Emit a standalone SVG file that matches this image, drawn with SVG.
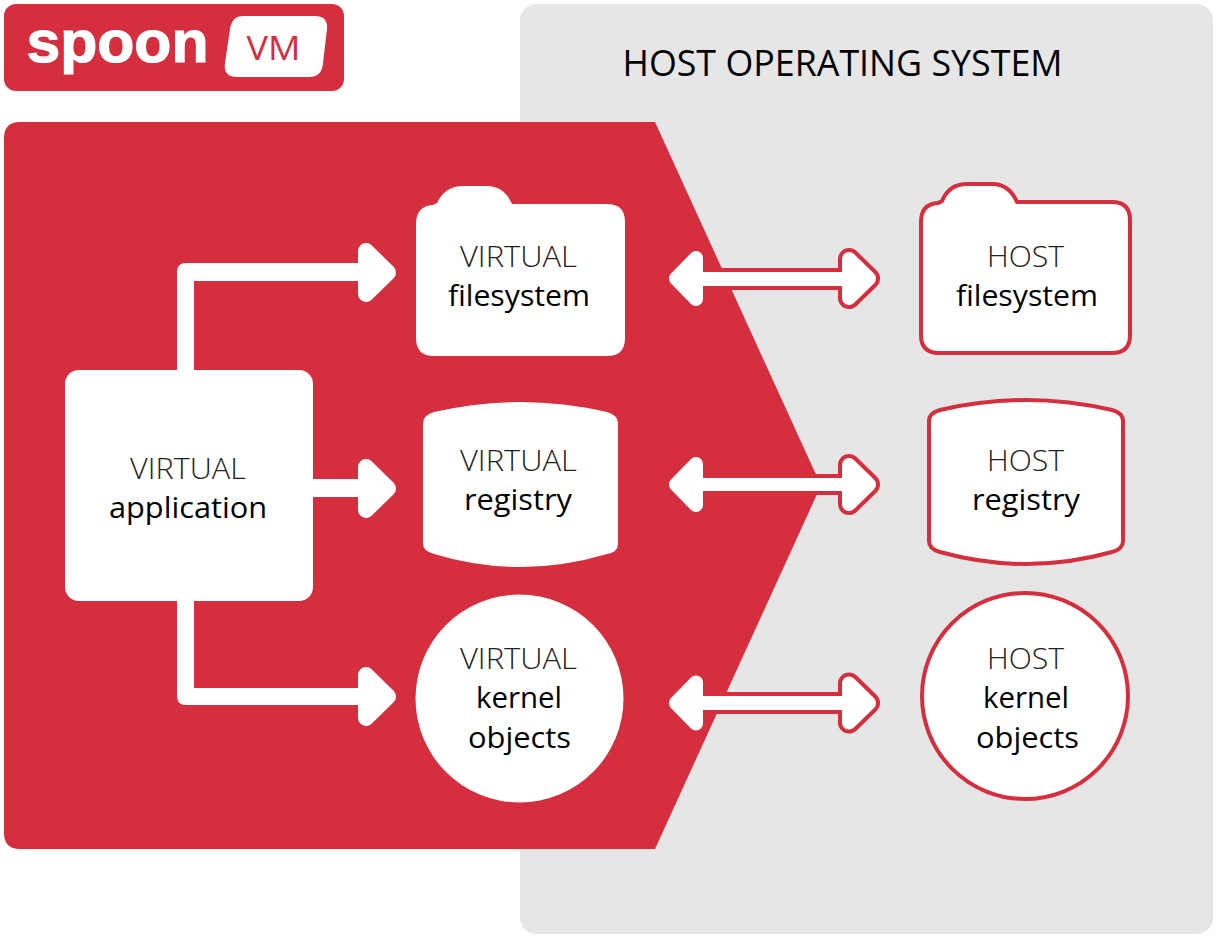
<svg xmlns="http://www.w3.org/2000/svg" width="1218" height="939" viewBox="0 0 1218 939">
<style>
text{font-family:"Open Sans","Noto Sans","Liberation Sans",sans-serif;fill:#000;text-anchor:middle}
.l{font-weight:300;font-size:30px;fill:#222}
.b{font-weight:400;font-size:30px}
.w{fill:#fff}
.ho{fill:#fff;stroke:#d52e3f;stroke-width:4}
.hw{fill:#fff;stroke:#fff;stroke-width:16;stroke-linejoin:round}
.ar{fill:#d52e3f;stroke:#d52e3f;stroke-width:22;stroke-linejoin:round}
.aw{fill:#fff;stroke:#fff;stroke-width:14;stroke-linejoin:round}
</style>
<rect width="1218" height="939" fill="#fff"/>
<g id="host-os">
<rect x="520" y="4" width="693" height="930" rx="16" fill="#e6e6e6"/>
<text x="842.500" y="76" font-size="37" textLength="440" lengthAdjust="spacingAndGlyphs">HOST OPERATING SYSTEM</text>
</g>
<g id="logo">
<rect x="4" y="4" width="340" height="87" rx="12" fill="#d52e3f"/>
<text x="117.500" y="62" textLength="182" lengthAdjust="spacingAndGlyphs" style="font-family:'Liberation Sans',sans-serif;font-weight:700;font-size:60px;fill:#fff;stroke:#fff;stroke-width:1.200px">spoon</text>
<path class="w" d="M243 16H315Q328 16 327 29L323 63Q322 77 309 77H237Q223 77 225 63L230 29Q232 16 243 16Z"/>
<text x="273.500" y="60" textLength="54" lengthAdjust="spacingAndGlyphs" style="font-weight:400;font-size:33px;fill:#d52e3f">VM</text>
</g>
<path id="vm-region" fill="#d52e3f" d="M20 122H655L821 485.500L655 849H20Q4 849 4 833V138Q4 122 20 122Z"/>
<g id="connectors">
<path class="w" d="M185 370H177V272Q177 263 186 263H365V281H194V370Z"/>
<path class="hw" d="M366 251L388 272.500L366 294Z"/>
<rect class="w" x="310" y="479" width="55" height="18"/>
<path class="hw" d="M366 467L388 488.500L366 510Z"/>
<path class="w" d="M177 598V696Q177 705 186 705H365V688H194V598Z"/>
<path class="hw" d="M366 675L388 696.500L366 718Z"/>

<rect x="703" y="268" width="145" height="22" fill="#d52e3f"/>
<path class="ar" d="M849 259L869 278.500L849 298Z"/>
<rect x="700" y="272" width="150" height="14" fill="#fff"/>
<path class="aw" d="M849 259L869 278.500L849 298Z"/>
<path class="aw" d="M696 258L676 278.500L696 299Z"/>

<rect x="703" y="474" width="145" height="21" fill="#d52e3f"/>
<path class="ar" d="M849 465L869 484.500L849 504Z"/>
<rect x="700" y="478" width="150" height="13" fill="#fff"/>
<path class="aw" d="M849 465L869 484.500L849 504Z"/>
<path class="aw" d="M696 464L676 484.500L696 505Z"/>

<rect x="703" y="692" width="145" height="22" fill="#d52e3f"/>
<path class="ar" d="M849 683.500L869 703L849 722.500Z"/>
<rect x="700" y="696" width="150" height="14" fill="#fff"/>
<path class="aw" d="M849 683.500L869 703L849 722.500Z"/>
<path class="aw" d="M696 682.500L676 703L696 723.500Z"/>
</g>
<g id="virtual-application">
<rect class="w" x="65" y="370" width="248" height="231" rx="14"/>
<text class="l" x="188" y="479" textLength="116" lengthAdjust="spacingAndGlyphs">VIRTUAL</text>
<text class="b" x="188" y="518" textLength="158" lengthAdjust="spacingAndGlyphs">application</text>
</g>
<g id="virtual-filesystem">
<path class="w" d="M416 224Q416 206 433 205L437 203Q445 186 463 186H487Q504 186 512 204H607Q625 204 625 222V338Q625 356 607 356H434Q416 356 416 338Z"/>
<text class="l" x="518.500" y="267" textLength="117" lengthAdjust="spacingAndGlyphs">VIRTUAL</text>
<text class="b" x="519" y="306" textLength="142" lengthAdjust="spacingAndGlyphs">filesystem</text>
</g>
<g id="virtual-registry">
<path class="w" d="M423 424Q423 415 434 412Q520 392 607 412Q618 415 618 424V544Q618 552 607 554Q520 580 434 554Q423 551 423 544Z"/>
<text class="l" x="518.500" y="471" textLength="117" lengthAdjust="spacingAndGlyphs">VIRTUAL</text>
<text class="b" x="518" y="510" textLength="108" lengthAdjust="spacingAndGlyphs">registry</text>
</g>
<g id="virtual-kernel-objects">
<circle class="w" cx="519.500" cy="698.500" r="104"/>
<text class="l" x="518.500" y="669" textLength="117" lengthAdjust="spacingAndGlyphs">VIRTUAL</text>
<text class="b" x="519" y="708" textLength="86" lengthAdjust="spacingAndGlyphs">kernel</text>
<text class="b" x="519.500" y="748" textLength="103" lengthAdjust="spacingAndGlyphs">objects</text>
</g>
<g id="host-filesystem">
<path class="ho" d="M921 222Q921 204 938 203L942 201Q949 184 967 184H992Q1009 184 1017 202H1112Q1130 202 1130 220V335Q1130 353 1112 353H939Q921 353 921 335Z"/>
<text class="l" x="1025.500" y="267" textLength="77" lengthAdjust="spacingAndGlyphs">HOST</text>
<text class="b" x="1027" y="306" textLength="142" lengthAdjust="spacingAndGlyphs">filesystem</text>
</g>
<g id="host-registry">
<path class="ho" d="M929 421Q929 413 940 410Q1026 390 1112 410Q1123 413 1123 421V541Q1123 549 1112 552Q1026 576 940 552Q929 549 929 541Z"/>
<text class="l" x="1025.500" y="471" textLength="77" lengthAdjust="spacingAndGlyphs">HOST</text>
<text class="b" x="1026" y="510" textLength="108" lengthAdjust="spacingAndGlyphs">registry</text>
</g>
<g id="host-kernel-objects">
<circle class="ho" cx="1025" cy="696" r="103"/>
<text class="l" x="1025.500" y="669" textLength="77" lengthAdjust="spacingAndGlyphs">HOST</text>
<text class="b" x="1026" y="708" textLength="86" lengthAdjust="spacingAndGlyphs">kernel</text>
<text class="b" x="1027.500" y="748" textLength="103" lengthAdjust="spacingAndGlyphs">objects</text>
</g>
</svg>
